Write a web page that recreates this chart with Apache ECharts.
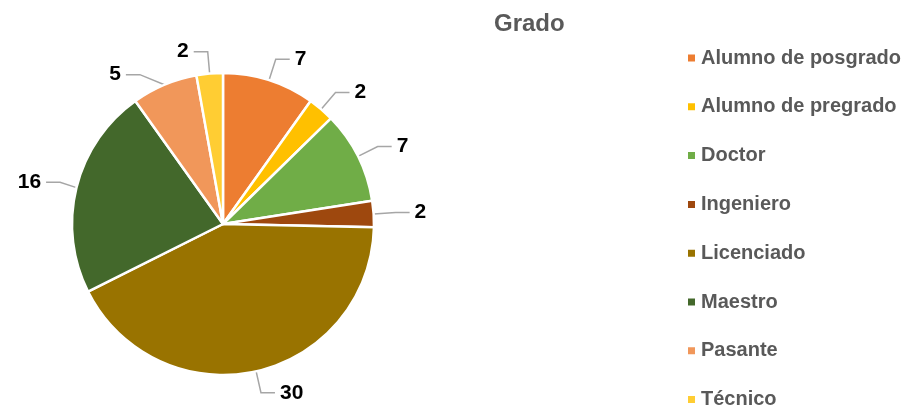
<!DOCTYPE html>
<html>
<head>
<meta charset="utf-8">
<script src="https://cdn.jsdelivr.net/npm/echarts@6/dist/echarts.min.js"></script>
<style>
  html, body { margin: 0; padding: 0; background: #fff; }
  #pieChart { width: 902px; height: 414px; }
</style>
</head>
<body>
<div id="pieChart"></div>
<script>
// grados academicos
const categories = ['Alumno de posgrado', 'Alumno de pregrado', 'Doctor', 'Ingeniero', 'Licenciado', 'Maestro', 'Pasante', 'Técnico'];
const values = [7, 2, 7, 2, 30, 16, 5, 2];
const colors = ['#ED7D31', '#FFC000', '#70AD47', '#9E480E', '#997300', '#43682B', '#F1975A', '#FFCD33'];

const font = '"Liberation Sans", Arial, sans-serif';

const chart = echarts.init(document.getElementById('pieChart'));

chart.setOption({
  animation: false,
  title: {
    text: 'Grado',
    left: 489,
    top: 7,
    textStyle: {
      fontFamily: font,
      fontSize: 24,
      fontWeight: 'bold',
      color: '#595959',
    },
  },
  legend: {
    orient: 'vertical',
    left: 681,
    top: 41,
    height: 380,
    icon: 'rect',
    itemWidth: 9,
    itemHeight: 9,
    itemGap: 24.8,
    textStyle: {
      fontFamily: font,
      fontSize: 20,
      fontWeight: 'bold',
      color: '#595959',
      lineHeight: 24,
    },
    data: categories,
  },
  series: [
    {
      type: 'pie',
      center: [223, 224],
      radius: 151,
      startAngle: 90,
      clockwise: true,
      color: colors,
      itemStyle: {
        borderColor: '#fff',
        borderWidth: 2.5,
      },
      label: {
        show: true,
        formatter: '{c}',
        fontFamily: font,
        fontSize: 21,
        fontWeight: 'bold',
        color: '#000',
      },
      labelLine: {
        show: true,
        length: 22,
        length2: 14,
        lineStyle: { color: '#A6A6A6', width: 1.5 },
      },
      data: categories.map((name, i) => ({ name, value: values[i] })),
    },
  ],
});
</script>
</body>
</html>
